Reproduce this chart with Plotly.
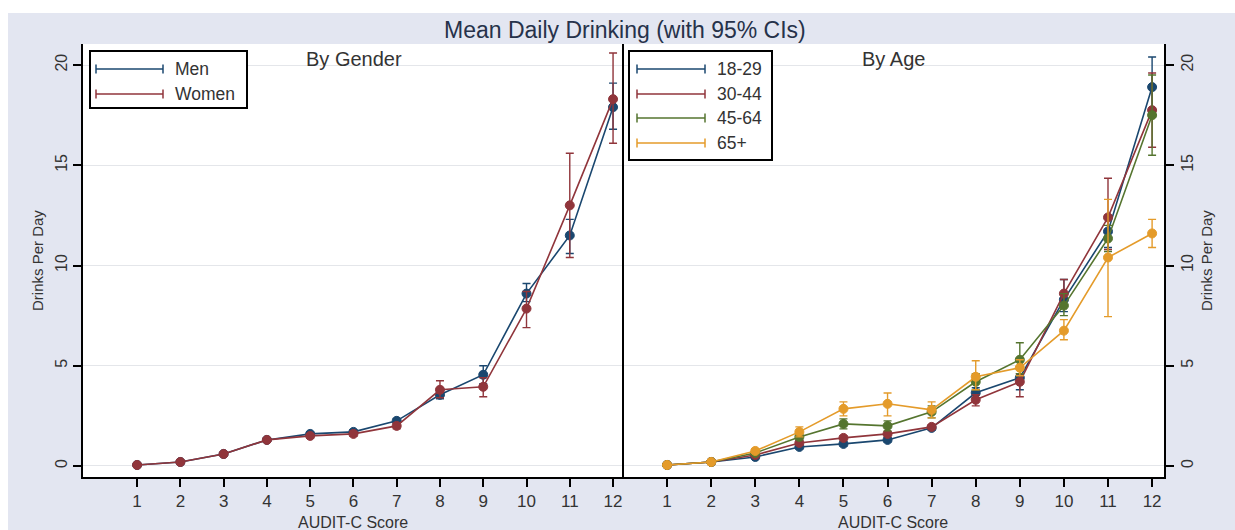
import plotly.graph_objects as go

# ---------------- data ----------------
scores = list(range(1, 13))
x_ticks = list(range(1, 13))
y_ticks = [0, 5, 10, 15, 20]

# By gender
men_mean = [0.05, 0.2, 0.6, 1.3, 1.6, 1.7, 2.25, 3.55, 4.55, 8.6, 11.5, 17.9]
men_lo = [0.03, 0.17, 0.55, 1.23, 1.52, 1.6, 2.13, 3.35, 4.1, 8.2, 10.6, 16.8]
men_hi = [0.07, 0.23, 0.65, 1.37, 1.68, 1.8, 2.37, 3.75, 5.0, 9.1, 12.3, 19.1]

women_mean = [0.05, 0.2, 0.6, 1.3, 1.5, 1.6, 2.0, 3.8, 3.95, 7.85, 13.0, 18.3]
women_lo = [0.03, 0.17, 0.55, 1.22, 1.4, 1.48, 1.85, 3.4, 3.45, 6.9, 10.4, 16.1]
women_hi = [0.07, 0.23, 0.65, 1.38, 1.6, 1.72, 2.15, 4.25, 4.4, 8.7, 15.6, 20.6]

# By age
a1829_mean = [0.05, 0.2, 0.45, 0.95, 1.1, 1.3, 1.9, 3.65, 4.4, 8.3, 11.7, 18.9]
a1829_lo = [0.03, 0.17, 0.4, 0.87, 1.0, 1.2, 1.8, 3.4, 3.8, 7.7, 10.9, 17.4]
a1829_hi = [0.07, 0.23, 0.5, 1.03, 1.2, 1.4, 2.0, 3.9, 4.9, 9.3, 12.5, 20.4]

a3044_mean = [0.05, 0.2, 0.55, 1.15, 1.4, 1.6, 1.95, 3.3, 4.2, 8.6, 12.4, 17.75]
a3044_lo = [0.03, 0.17, 0.5, 1.05, 1.3, 1.5, 1.85, 3.0, 3.45, 8.0, 10.8, 15.9]
a3044_hi = [0.07, 0.23, 0.6, 1.25, 1.5, 1.7, 2.05, 3.55, 4.6, 9.3, 14.35, 19.6]

a4564_mean = [0.05, 0.2, 0.65, 1.45, 2.1, 2.0, 2.7, 4.2, 5.3, 8.0, 11.35, 17.5]
a4564_lo = [0.03, 0.17, 0.58, 1.3, 1.85, 1.75, 2.4, 3.8, 4.6, 7.5, 10.7, 15.5]
a4564_hi = [0.07, 0.23, 0.72, 1.6, 2.35, 2.25, 3.0, 4.6, 6.15, 8.6, 12.0, 19.5]

a65_mean = [0.05, 0.2, 0.75, 1.7, 2.85, 3.1, 2.8, 4.45, 4.9, 6.75, 10.4, 11.6]
a65_lo = [0.03, 0.16, 0.65, 1.45, 2.5, 2.5, 2.4, 3.8, 4.5, 6.3, 7.45, 10.9]
a65_hi = [0.07, 0.24, 0.85, 1.95, 3.2, 3.64, 3.2, 5.25, 5.3, 7.3, 13.3, 12.3]

gender_names = ["Men", "Women"]
age_names = ["18-29", "30-44", "45-64", "65+"]

title_text = "Mean Daily Drinking (with 95% CIs)"
panel_titles = ["By Gender", "By Age"]
x_title = "AUDIT-C Score"
y_title = "Drinks Per Day"

# ---------------- styling ----------------
NAVY = "#1a476f"
MAROON = "#90353b"
GREEN = "#55752f"
ORANGE = "#e49b2a"
BG = "#e3e6f1"
FONT = "Liberation Sans, Arial, sans-serif"

W, H = 1235, 530
L, R, T, B = 83, 1164, 44, 477   # plot area in px
PW, PH = R - L, B - T
MID = 623


def px(xp):
    return (xp - L) / PW


def py(yp):
    return (B - yp) / PH


def series(x, m, lo, hi, color, xa, ya):
    return go.Scatter(
        x=x, y=m, mode="lines+markers", xaxis=xa, yaxis=ya, showlegend=False,
        line=dict(color=color, width=1.6),
        marker=dict(color=color, size=9, line=dict(color=color, width=1)),
        error_y=dict(type="data", symmetric=False,
                     array=[h - v for h, v in zip(hi, m)],
                     arrayminus=[v - l for v, l in zip(m, lo)],
                     color=color, thickness=1.4, width=4),
        hoverinfo="x+y",
    )


fig = go.Figure()
fig.add_trace(series(scores, men_mean, men_lo, men_hi, NAVY, "x", "y"))
fig.add_trace(series(scores, women_mean, women_lo, women_hi, MAROON, "x", "y"))
fig.add_trace(series(scores, a1829_mean, a1829_lo, a1829_hi, NAVY, "x2", "y2"))
fig.add_trace(series(scores, a3044_mean, a3044_lo, a3044_hi, MAROON, "x2", "y2"))
fig.add_trace(series(scores, a4564_mean, a4564_lo, a4564_hi, GREEN, "x2", "y2"))
fig.add_trace(series(scores, a65_mean, a65_lo, a65_hi, ORANGE, "x2", "y2"))

xcommon = dict(tickmode="array", tickvals=x_ticks, ticktext=[str(v) for v in x_ticks],
               ticks="outside", ticklen=8, tickwidth=1.5, tickcolor="black",
               showline=True, linecolor="black", linewidth=2, showgrid=False,
               zeroline=False, tickfont=dict(family=FONT, size=17, color="#333333"))
ycommon = dict(range=[-0.55, 21.05], tickmode="array", tickvals=y_ticks,
               ticktext=[str(v) for v in y_ticks], tickangle=-90,
               ticks="outside", ticklen=8, tickwidth=1.5, tickcolor="black",
               showline=True, linecolor="black", linewidth=2,
               showgrid=True, gridcolor="#e4e6ea", gridwidth=1, zeroline=False,
               tickfont=dict(family=FONT, size=16, color="#333333"))

mid_p = px(MID)
fig.update_layout(
    width=W, height=H,
    margin=dict(l=L, r=W - R, t=T, b=H - B, pad=0),
    paper_bgcolor=BG, plot_bgcolor="white",
    xaxis=dict(domain=[0, mid_p], range=[-0.25, 12.23], anchor="y", **xcommon),
    yaxis=dict(domain=[0, 1], anchor="x", side="left", **ycommon),
    xaxis2=dict(domain=[mid_p, 1], range=[0, 12.27], anchor="y2", **xcommon),
    yaxis2=dict(domain=[0, 1], anchor="x2", side="right", **ycommon),
    showlegend=False,
    font=dict(family=FONT, color="#333333"),
)

shapes = []
ann = []
# white strips around the light background
shapes.append(dict(type="rect", xref="paper", yref="paper", x0=px(0), x1=px(W),
                   y0=py(13), y1=py(0), fillcolor="white", line=dict(width=0), layer="below"))
shapes.append(dict(type="rect", xref="paper", yref="paper", x0=px(0), x1=px(8),
                   y0=py(H), y1=py(0), fillcolor="white", line=dict(width=0), layer="below"))
# divider between panels
shapes.append(dict(type="line", xref="paper", yref="paper", x0=mid_p, x1=mid_p,
                   y0=0, y1=1, line=dict(color="black", width=2)))


def legend_box(x0, x1, y0, y1, gx0, gx1, tx, rows, names, colors):
    shapes.append(dict(type="rect", xref="paper", yref="paper",
                       x0=px(x0), x1=px(x1), y0=py(y1), y1=py(y0),
                       fillcolor="white", line=dict(color="black", width=2)))
    for yr, nm, c in zip(rows, names, colors):
        shapes.append(dict(type="line", xref="paper", yref="paper",
                           x0=px(gx0), x1=px(gx1), y0=py(yr), y1=py(yr),
                           line=dict(color=c, width=1.5)))
        for gx in (gx0, gx1):
            shapes.append(dict(type="line", xref="paper", yref="paper",
                               x0=px(gx), x1=px(gx), y0=py(yr - 4.5), y1=py(yr + 4.5),
                               line=dict(color=c, width=1.5)))
        ann.append(dict(xref="paper", yref="paper", x=px(tx), y=py(yr), text=nm,
                        showarrow=False, xanchor="left", yanchor="middle",
                        font=dict(family=FONT, size=17.5, color="#333333")))


legend_box(90, 247, 51, 108, 96, 163, 173, [69, 94], gender_names, [NAVY, MAROON])
legend_box(629, 772, 51, 160, 637, 705, 715, [69, 94, 118, 143], age_names,
           [NAVY, MAROON, GREEN, ORANGE])

# titles
ann.append(dict(xref="paper", yref="paper", x=px(625), y=py(30), text=title_text,
                showarrow=False, xanchor="center", yanchor="middle",
                font=dict(family=FONT, size=23, color="#26324a")))
ann.append(dict(xref="paper", yref="paper", x=px(354), y=py(59), text=panel_titles[0],
                showarrow=False, xanchor="center", yanchor="middle",
                font=dict(family=FONT, size=20, color="#333333")))
ann.append(dict(xref="paper", yref="paper", x=px(893), y=py(59), text=panel_titles[1],
                showarrow=False, xanchor="center", yanchor="middle",
                font=dict(family=FONT, size=20, color="#333333")))
for cx in (353, 893):
    ann.append(dict(xref="paper", yref="paper", x=px(cx), y=py(522), text=x_title,
                    showarrow=False, xanchor="center", yanchor="middle",
                    font=dict(family=FONT, size=16, color="#333333")))
for cx in (37, 1206):
    ann.append(dict(xref="paper", yref="paper", x=px(cx), y=py(261), text=y_title,
                    showarrow=False, xanchor="center", yanchor="middle", textangle=-90,
                    font=dict(family=FONT, size=15, color="#333333")))

fig.update_layout(shapes=shapes, annotations=ann)
fig.write_html(
    "out.html",
    config={"displayModeBar": False},
    post_script="document.body.style.margin='0px';document.body.style.overflow='hidden';",
)
